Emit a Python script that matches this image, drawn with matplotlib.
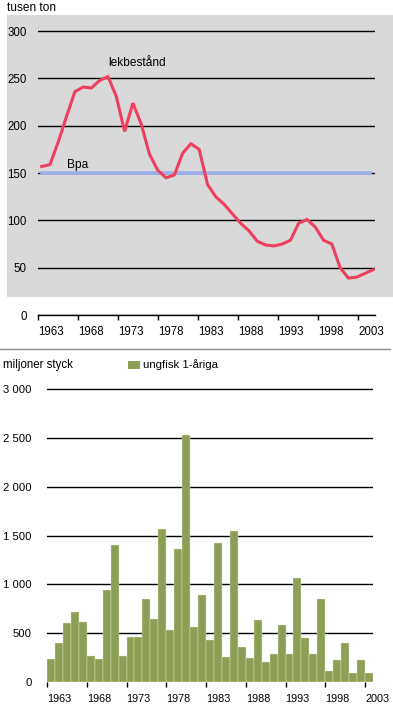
import matplotlib
matplotlib.use("Agg")
import matplotlib.pyplot as plt
from matplotlib.patches import Rectangle
from matplotlib.lines import Line2D
import numpy as np

plt.rcParams['font.family'] = ['Liberation Sans', 'DejaVu Sans']

# ---------------- data ----------------
years = list(range(1963, 2004))
ssb = [157, 159, 183, 210, 236, 241, 240, 248, 252, 231,
       194, 224, 202, 170, 153, 145, 148, 171, 181, 175,
       138, 125, 117, 107, 97, 89, 78, 74, 73, 75,
       79, 97, 101, 93, 79, 75, 50, 39, 40, 44, 48]
bpa = 150
recruits = [231, 403, 607, 714, 617, 265, 231, 945, 1403, 265,
            459, 459, 852, 645, 1569, 531, 1359, 2530, 559, 886,
            431, 1421, 259, 1541, 359, 248, 638, 203, 283, 583,
            290, 1065, 448, 283, 845, 117, 221, 397, 97, 221, 97]
tick_years = years[::5]
top_yticks = [0, 50, 100, 150, 200, 250, 300]
bot_yticks = [0, 500, 1000, 1500, 2000, 2500, 3000]
bot_ylabels = ['0', '500', '1 000', '1 500', '2 000', '2 500', '3 000']

W, H = 393, 715
fig = plt.figure(figsize=(W / 100, H / 100), dpi=100)


def rect(x0, y0, x1, y1):
    return [x0 / W, 1 - y1 / H, (x1 - x0) / W, (y1 - y0) / H]


def ftext(x, y, s, **kw):
    fig.text(x / W, 1 - y / H, s, **kw)


RED = '#ef3f5f'
BLUE = '#9cafe9'
GREEN = '#8d9f55'
GRAY = '#d9d9d9'

# gray background of the upper chart
fig.add_artist(Rectangle((7 / W, 1 - 297 / H), (393 - 7) / W, (297 - 15) / H,
                         transform=fig.transFigure, facecolor=GRAY,
                         edgecolor='none', zorder=-5))

# ---------------- upper chart ----------------
ax1 = fig.add_axes(rect(38, 15, 375, 315))
ax1.set_facecolor('none')
ax1.set_xlim(1962.554, 2003.205)
ax1.set_ylim(0, 317.1)
for s in ['top', 'right', 'left']:
    ax1.spines[s].set_visible(False)
ax1.spines['bottom'].set_color('black')
ax1.spines['bottom'].set_linewidth(1.0)
ax1.set_yticks(top_yticks)
ax1.set_yticklabels([str(v) for v in top_yticks])
ax1.tick_params(axis='y', length=0, pad=8, labelsize=8.3)
ax1.tick_params(axis='x', bottom=False, labelbottom=False)
ax1.yaxis.grid(True, color='black', linewidth=1.0)
ax1.set_axisbelow(True)
ax1.axhline(bpa, xmin=0.012, xmax=0.985, color=BLUE, linewidth=2.6, zorder=2)
ax1.plot(years, ssb, color=RED, linewidth=2.2, zorder=3,
         solid_joinstyle='miter')

# tick axis of the upper chart
axt = fig.add_axes(rect(38, 15, 375, 315))
axt.set_facecolor('none')
axt.set_frame_on(False)
axt.set_xlim(1962.9625, 2005.0875)
axt.set_ylim(0, 1)
axt.set_yticks([])
axt.set_xticks(tick_years)
axt.set_xticklabels([str(y) for y in tick_years])
axt.tick_params(axis='x', direction='out', length=3.6, width=1.0,
                color='black', pad=4, labelsize=8.3)
for lbl in axt.get_xticklabels():
    lbl.set_ha('left')

ftext(7, 8, 'tusen ton', fontsize=8.6, va='center', ha='left')
ftext(108, 63, 'lekbestånd', fontsize=8.6, va='center', ha='left')
ftext(67, 165, 'Bpa', fontsize=8.6, va='center', ha='left')

# separator line
fig.add_artist(Line2D([0, 390 / W], [1 - 349 / H, 1 - 349 / H],
                      transform=fig.transFigure, color='#8a8a8a',
                      linewidth=1.0))

# ---------------- lower chart ----------------
ax2 = fig.add_axes(rect(47, 385, 373, 682))
ax2.set_facecolor('white')
ax2.set_xlim(years[0] - 0.5, years[-1] + 0.5)
ax2.set_ylim(0, 3041)
for s in ax2.spines.values():
    s.set_visible(False)
ax2.bar(years, recruits, width=1.0, color=GREEN, edgecolor='#dfe7c6',
        linewidth=0.3, zorder=2)
ax2.set_yticks(bot_yticks)
ax2.set_yticklabels(bot_ylabels)
ax2.tick_params(axis='y', length=0, pad=11, labelsize=8.1)
ax2.yaxis.grid(True, color='black', linewidth=1.0, zorder=0)
ax2.set_axisbelow(True)
ax2.set_xticks([y - 0.5 for y in tick_years])
ax2.set_xticklabels([str(y) for y in tick_years])
ax2.tick_params(axis='x', direction='out', length=3.6, width=1.0,
                color='black', pad=5, labelsize=7.8)
for lbl in ax2.get_xticklabels():
    lbl.set_ha('left')

ftext(3, 365, 'miljoner styck', fontsize=8.3, va='center', ha='left')
fig.add_artist(Rectangle((128 / W, 1 - 369 / H), 12 / W, 8 / H,
                         transform=fig.transFigure, facecolor=GREEN,
                         edgecolor='none'))
ftext(143, 365, 'ungfisk 1-åriga', fontsize=8.2, va='center', ha='left')

fig.savefig('out.png', dpi=100)
